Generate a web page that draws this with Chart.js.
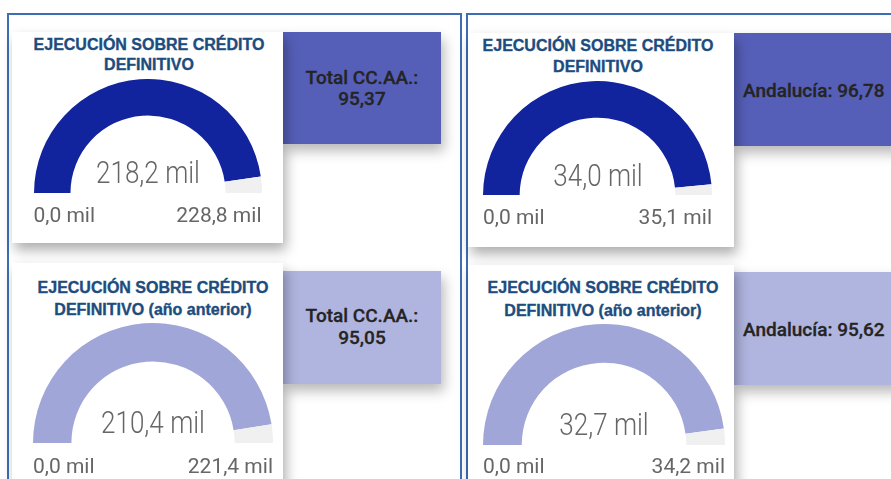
<!DOCTYPE html>
<html>
<head>
<meta charset="utf-8">
<script src="https://cdn.jsdelivr.net/npm/chart.js@4.4.1/dist/chart.umd.min.js"></script>
<style>
  html, body { margin: 0; padding: 0; background: #fff; }
  body { width: 891px; height: 479px; position: relative; overflow: hidden; font-family: "Liberation Sans", Arial, sans-serif; }
  .panel { position: absolute; border: 2px solid #3d6db5; box-sizing: border-box; }
  .card { position: absolute; background: #fff; box-shadow: 3px 7px 12px rgba(0,0,0,0.32); z-index: 2; }
  .kpi { position: absolute; z-index: 1; box-shadow: 3px 7px 12px rgba(0,0,0,0.28); }
  .title { position: absolute; z-index: 3; width: 300px; text-align: center; color: #1d4c7e;
           font-weight: bold; font-size: 16px; line-height: 21px; -webkit-text-stroke: 0.35px #1d4c7e; white-space: nowrap; }
  .gauge { position: absolute; z-index: 3; }
  .val { position: absolute; z-index: 4; width: 200px; text-align: center; font-family: Roboto, sans-serif; font-weight: 300;
         color: #666; font-size: 31px; line-height: 31px; transform: scaleX(0.84); white-space: nowrap; }
  .lim { position: absolute; z-index: 4; font-family: Roboto, sans-serif; color: #666; font-size: 21px; line-height: 21px; white-space: nowrap; }
  .kpitext { position: absolute; z-index: 3; font-family: Roboto, sans-serif; font-weight: 500; color: #252423;
             font-size: 19px; line-height: 21px; white-space: nowrap; -webkit-text-stroke: 0.3px #252423; }
</style>
</head>
<body>
<div class="panel" style="left:7px; top:13px; width:455px; height:500px;"></div>
<div class="panel" style="left:466px; top:13px; width:440px; height:500px;"></div>
<div id="root"></div>
<script>
// datos de los indicadores (miles de euros)
const gaugeTitles = [
  ["EJECUCIÓN SOBRE CRÉDITO", "DEFINITIVO"],
  ["EJECUCIÓN SOBRE CRÉDITO", "DEFINITIVO"],
  ["EJECUCIÓN SOBRE CRÉDITO", "DEFINITIVO (año anterior)"],
  ["EJECUCIÓN SOBRE CRÉDITO", "DEFINITIVO (año anterior)"]
];
const gaugeMin = [0, 0, 0, 0];
const gaugeValues = [218.2, 34.0, 210.4, 32.7];
const gaugeMax = [228.8, 35.1, 221.4, 34.2];
const kpiLabels = ["Total CC.AA.:", "Andalucía:", "Total CC.AA.:", "Andalucía:"];
const kpiValues = [95.37, 96.78, 95.05, 95.62];

// layout of each tile
const layout = [
  { cx: 147.5, cy: 193, r: 114, color: "#12239e", kpiColor: "#555fb8", card: [12, 32, 271, 211], kpi: [283, 32, 158, 112],
    titleY: [44, 64.5], titleX: 149, valY: 172, limY: 215, kpiX: 362, kpiY: [77, 98], split: true },
  { cx: 597.5, cy: 195, r: 114.5, color: "#12239e", kpiColor: "#555fb8", card: [468, 33, 266, 214], kpi: [734, 33, 200, 113],
    titleY: [45.5, 66], titleX: 598, valY: 175, limY: 217, kpiX: 743, kpiY: [90], split: false },
  { cx: 153, cy: 443, r: 120, color: "#a0a6d8", kpiColor: "#b0b5e0", card: [12, 263, 271, 240], kpi: [283, 271, 158, 113],
    titleY: [287, 309], titleX: 153, valY: 422, limY: 466, kpiX: 362, kpiY: [315, 337], split: true },
  { cx: 604, cy: 445, r: 121, color: "#a0a6d8", kpiColor: "#b0b5e0", card: [468, 265, 266, 240], kpi: [734, 272, 200, 113],
    titleY: [287.5, 310], titleX: 603, valY: 424.5, limY: 466, kpiX: 743, kpiY: [329], split: false }
];

const fmt = (v) => v.toFixed(1).replace(".", ",") + " mil";
const fmt2 = (v) => v.toFixed(2).replace(".", ",");
const root = document.getElementById("root");

function addDiv(cls, style, text) {
  const d = document.createElement("div");
  d.className = cls;
  Object.assign(d.style, style);
  if (text !== undefined) d.textContent = text;
  root.appendChild(d);
  return d;
}

layout.forEach((t, i) => {
  addDiv("card", { left: t.card[0] + "px", top: t.card[1] + "px", width: t.card[2] + "px", height: t.card[3] + "px" });
  addDiv("kpi", { left: t.kpi[0] + "px", top: t.kpi[1] + "px", width: t.kpi[2] + "px", height: t.kpi[3] + "px", background: t.kpiColor });

  // titles
  gaugeTitles[i].forEach((line, k) => {
    addDiv("title", { left: (t.titleX - 150) + "px", top: (t.titleY[k] - 10.5) + "px" }, line);
  });

  // KPI text
  if (t.split) {
    addDiv("kpitext", { left: (t.kpiX - 100) + "px", width: "200px", textAlign: "center", top: (t.kpiY[0] - 10.5) + "px" }, kpiLabels[i]);
    addDiv("kpitext", { left: (t.kpiX - 100) + "px", width: "200px", textAlign: "center", top: (t.kpiY[1] - 10.5) + "px" }, fmt2(kpiValues[i]));
  } else {
    addDiv("kpitext", { left: t.kpiX + "px", top: (t.kpiY[0] - 10.5) + "px" }, kpiLabels[i] + " " + fmt2(kpiValues[i]));
  }

  // gauge canvas
  const box = addDiv("gauge", { left: (t.cx - t.r) + "px", top: (t.cy - t.r) + "px", width: (2 * t.r) + "px", height: t.r + "px" });
  const cv = document.createElement("canvas");
  box.appendChild(cv);
  new Chart(cv.getContext("2d"), {
    type: "doughnut",
    data: {
      labels: ["Ejecutado", "Resto"],
      datasets: [{
        data: [gaugeValues[i] - gaugeMin[i], gaugeMax[i] - gaugeValues[i]],
        backgroundColor: [t.color, "#f0f0f0"],
        borderWidth: 0
      }]
    },
    options: {
      responsive: true,
      maintainAspectRatio: false,
      animation: false,
      events: [],
      rotation: -90,
      circumference: 180,
      cutout: "68%",
      layout: { padding: 0 },
      plugins: { legend: { display: false }, tooltip: { enabled: false } }
    }
  });

  // value and min/max labels
  addDiv("val", { left: (t.cx - 100) + "px", top: (t.valY - 15.5) + "px" }, fmt(gaugeValues[i]));
  addDiv("lim", { left: (t.cx - t.r) + "px", top: (t.limY - 10.5) + "px" }, fmt(gaugeMin[i]));
  addDiv("lim", { left: (t.cx - t.r - 100) + "px", width: (2 * t.r + 100) + "px", textAlign: "right", top: (t.limY - 10.5) + "px" }, fmt(gaugeMax[i]));
});
</script>
</body>
</html>
